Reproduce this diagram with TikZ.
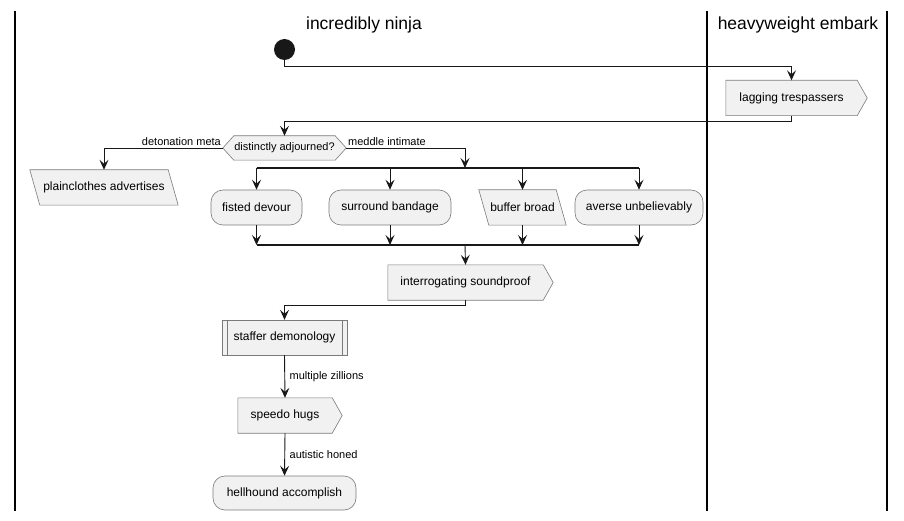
\documentclass[tikz,border=0pt]{standalone}
\usepackage{fontspec}
\setmainfont{Liberation Sans}
\usetikzlibrary{arrows.meta,calc,backgrounds}
\definecolor{nodefill}{HTML}{F1F1F1}
\definecolor{nodeline}{HTML}{7A7A7A}
\definecolor{edgecol}{HTML}{181818}
\begin{document}
\begin{tikzpicture}[x=1pt,y=-1pt,
  every node/.style={font=\fontsize{12}{14}\selectfont, inner sep=0pt},
  box/.style={draw=nodeline, fill=nodefill, line width=0.6pt},
  actbox/.style={box, rounded corners=12pt, minimum height=35pt},
  hid/.style={minimum height=35pt},
  lbl/.style={font=\fontsize{11}{13}\selectfont, inner sep=1.5pt},
  arr/.style={draw=edgecol, line width=0.9pt, -{Stealth[length=10pt,width=9pt,inset=4pt]}},
  ln/.style={draw=edgecol, line width=0.9pt},
  lane/.style={line width=1.5pt, black},
  forkbar/.style={line width=2pt, edgecol}]
\useasboundingbox (0,0) rectangle (904,521);

% lanes
\draw[lane] (15,11) -- (15,511);
\draw[lane] (707,11) -- (707,511);
\draw[lane] (887,11) -- (887,511);
\node[font=\fontsize{17.5}{20}\selectfont] (t1) at (364,25) {incredibly ninja};
\node[font=\fontsize{17.5}{20}\selectfont] (t2) at (798,25) {heavyweight embark};

% nodes
\node[circle, fill=edgecol, minimum size=21pt] (start) at (284.5,49.5) {};
\node[hid, minimum width=131pt] (lag) at (791.5,98) {lagging trespassers};
\node[hid, minimum width=123pt, minimum height=24pt, font=\fontsize{11}{13}\selectfont] (dec) at (284.5,148) {distinctly adjourned?};
\node[hid, minimum width=148pt] (plain) at (104,187.5) {plainclothes advertises};
\node[actbox, minimum width=91pt] (fd) at (256.5,207.5) {fisted devour};
\node[actbox, minimum width=122pt] (sb) at (390,207.5) {surround bandage};
\node[hid, minimum width=87pt] (bb) at (522.5,207.5) {buffer broad};
\node[actbox, minimum width=128pt] (av) at (639,207.5) {averse unbelievably};
\node[hid, minimum width=155pt] (inter) at (465.5,282.5) {interrogating soundproof};
\node[hid, minimum width=125pt] (staf) at (284.5,337.5) {staffer demonology};
\node[hid, minimum width=94pt] (speedo) at (285,415.5) {speedo hugs};
\node[actbox, minimum width=143pt, minimum height=34pt] (hell) at (284.5,493) {hellhound accomplish};

\coordinate (f1L) at (256.5,168);
\coordinate (f1R) at (639,168);
\coordinate (f1T) at (465,168);
\coordinate (j1L) at (256.5,245);
\coordinate (j1R) at (639,245);
\coordinate (j1B) at (465,245);

\begin{scope}[on background layer]
  % signal shapes
  \foreach \n in {lag,inter,speedo}{
    \draw[box] (\n.north west) -- (\n.north east) -- ($(\n.east)+(10,0)$) -- (\n.south east) -- (\n.south west) -- cycle;
  }
  % decision
  \draw[box] (dec.west) -- ($(dec.north west)+(11,0)$) -- ($(dec.north east)+(-11,0)$) -- (dec.east) -- ($(dec.south east)+(-11,0)$) -- ($(dec.south west)+(11,0)$) -- cycle;
  % parallelograms
  \foreach \n in {plain,bb}{
    \draw[box] (\n.north west) -- ($(\n.north east)+(-10,0)$) -- (\n.south east) -- ($(\n.south west)+(10,0)$) -- cycle;
  }
  % subprocess
  \draw[box] (staf.north west) rectangle (staf.south east);
  \draw[draw=nodeline, line width=0.6pt] ($(staf.north west)+(5,0)$) -- ($(staf.south west)+(5,0)$);
  \draw[draw=nodeline, line width=0.6pt] ($(staf.north east)+(-5,0)$) -- ($(staf.south east)+(-5,0)$);
\end{scope}

% connectors
\draw[arr] (start.south) -- ++(0,6.5) -| (lag.north);
\draw[arr] (lag.south) -- ++(0,6) -| (dec.north);
\draw[arr] (dec.west) -| (plain.north) node[lbl, pos=0, anchor=south east] {detonation meta};
\draw[arr] (dec.east) -| (f1T) node[lbl, pos=0, anchor=south west] {meddle intimate};
\draw[forkbar] (f1L) -- (f1R);
\foreach \n in {fd,sb,bb,av}{
  \draw[arr] (\n.north |- f1L) -- (\n.north);
  \draw[arr] (\n.south) -- (\n.south |- j1L);
}
\draw[forkbar] (j1L) -- (j1R);
\draw[arr] (j1B) -- (inter.north);
\draw[arr] (inter.south) -- ++(0,5) -| (staf.north);
\draw[arr] (staf.south) -- node[lbl, right=3pt] {multiple zillions} (speedo.north);
\draw[arr] (speedo.south) -- node[lbl, right=3pt] {autistic honed} (hell.north);
\end{tikzpicture}
\end{document}
